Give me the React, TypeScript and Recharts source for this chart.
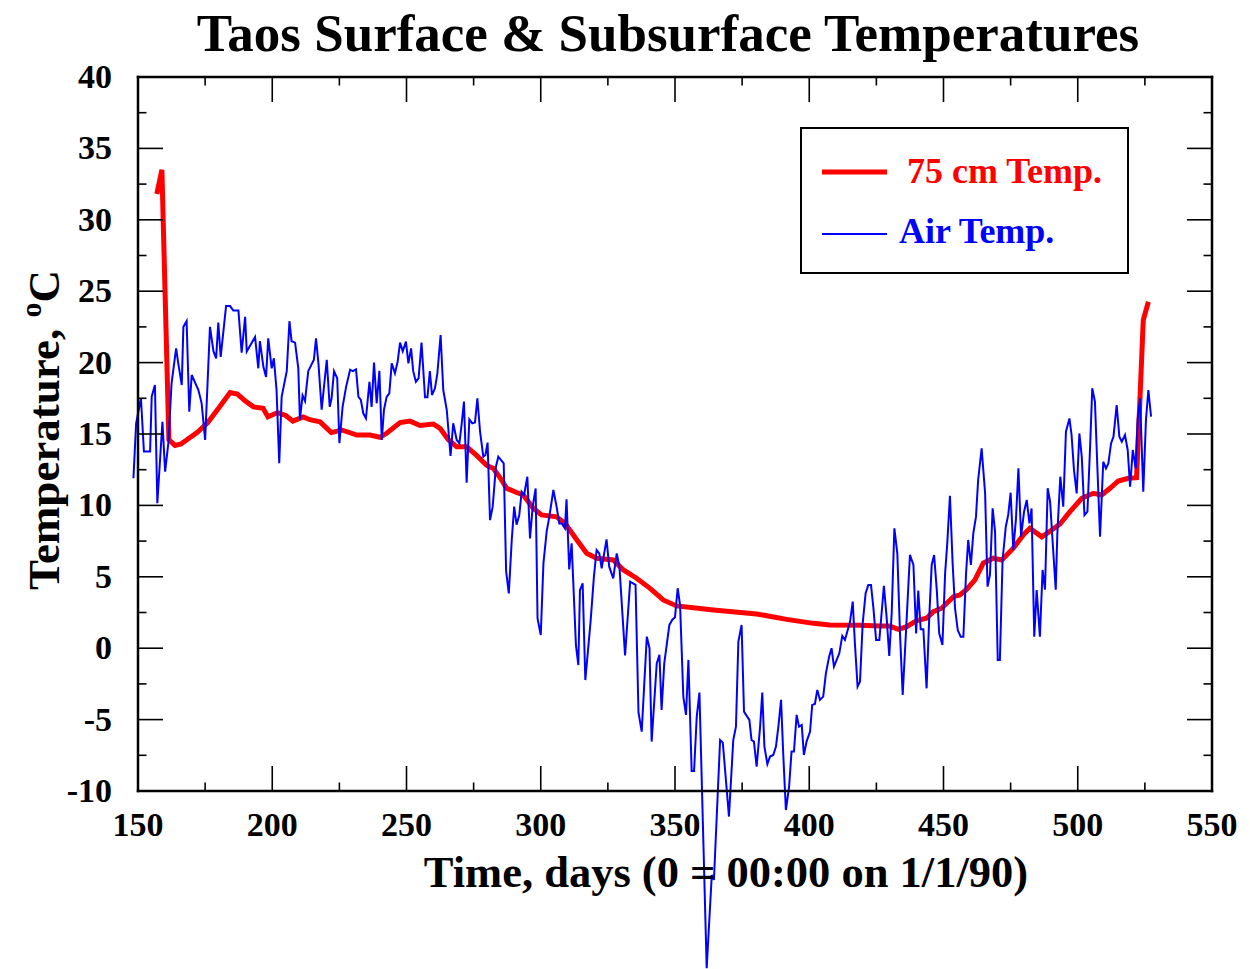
import React from 'react';
import { LineChart, Line, XAxis, YAxis, Legend } from 'recharts';

const FONT = '"Liberation Serif", "Times New Roman", serif';

const titleText = 'Taos Surface & Subsurface Temperatures';
const xTitle = 'Time, days (0 = 00:00 on 1/1/90)';
const yTitle = 'Temperature, ';
const yTitleSup = 'o';
const yTitleUnit = 'C';
const seriesNames = ['75 cm Temp.', 'Air Temp.'];

const xTicks = [150, 175, 200, 225, 250, 275, 300, 325, 350, 375, 400, 425, 450, 475, 500, 525, 550];
const yTicks = [-10, -7.5, -5, -2.5, 0, 2.5, 5, 7.5, 10, 12.5, 15, 17.5, 20, 22.5, 25, 27.5, 30, 32.5, 35, 37.5, 40];
const xDomain = [150, 550];
const yDomain = [-10, 40];

// 75 cm soil temperature
const soilDays = [
  157.0, 158.9, 161.5, 163.8, 166, 169, 172, 176, 180, 184.3,
  187, 190, 193, 196.6, 198.4, 202, 205, 207.7, 211.5, 214,
  217.8, 222, 225.9, 231.5, 236.4, 240.1, 242.6, 247.6, 251.3, 255,
  260, 262.5, 265.6, 268.7, 272.4, 276.1, 279.9, 282.3, 285, 287.3,
  291, 293.5, 297.2, 300.3, 305.9, 309, 313.4, 317.1, 320.8, 327,
  330.8, 335.7, 340.7, 345.6, 350.6, 359.3, 364.3, 380.4, 391.6, 401.5,
  407.7, 418.9, 426.4, 430, 433.2, 436.3, 440, 443.7, 446.2, 449.3,
  453.7, 456.1, 458.6, 461.7, 464.8, 468.5, 471.7, 476, 479.7, 482.2,
  486.6, 490.3, 493.4, 497.1, 501.5, 505.8, 508.9, 512, 515.1, 518.8,
  521.9, 523.2, 524.4, 526.3,
];
const soilTemps = [
  31.8, 33.5, 14.6, 14.2, 14.3, 14.7, 15.1, 15.8, 16.8, 17.9,
  17.8, 17.3, 16.9, 16.8, 16.2, 16.5, 16.3, 15.9, 16.2, 16.0,
  15.85, 15.1, 15.28, 14.93, 14.93, 14.77, 15.05, 15.8, 15.9, 15.6,
  15.7, 15.4, 14.6, 14.1, 14.1, 13.5, 12.8, 12.6, 11.9, 11.2,
  10.9, 10.73, 9.8, 9.33, 9.2, 8.75, 7.6, 6.65, 6.3, 6.18,
  5.48, 4.9, 4.19, 3.38, 2.96, 2.78, 2.68, 2.4, 2.02, 1.74,
  1.62, 1.6, 1.55, 1.55, 1.32, 1.51, 1.93, 2.1, 2.56, 2.8,
  3.61, 3.73, 4.12, 4.78, 5.95, 6.3, 6.18, 7.0, 7.93, 8.4,
  7.8, 8.28, 8.7, 9.56, 10.5, 10.85, 10.73, 11.2, 11.71, 11.9,
  11.94, 17.6, 22.98, 24.26,
];

// Air temperature
const airDays = [
  148.3, 149.3, 151.1, 152.2, 154.5, 155.1, 156.3, 157.2, 159.1, 160.1,
  161.3, 162.5, 164.2, 165.0, 166.3, 166.9, 168.1, 169.1, 170.0, 172.5,
  173.7, 175.0, 176.8, 178.1, 179.1, 179.9, 180.8, 182.8, 184.3, 185.5,
  187.4, 188.6, 189.9, 190.5, 193.6, 194.8, 195.4, 196.7, 197.7, 198.5,
  199.8, 200.6, 201.6, 202.6, 203.5, 205.4, 206.4, 207.2, 208.5, 209.7,
  210.3, 211.3, 212.2, 213.4, 215.5, 216.3, 217.2, 218.4, 220.3, 221.4,
  222.1, 223.0, 224.2, 225.0, 226.2, 227.5, 229.0, 230.0, 231.2, 232.1,
  233.0, 233.9, 234.9, 236.2, 237.0, 237.9, 238.9, 239.9, 240.8, 241.6,
  242.6, 243.6, 244.5, 245.7, 246.7, 247.6, 248.6, 249.8, 250.7, 251.7,
  252.5, 253.5, 254.5, 255.6, 256.9, 257.8, 258.7, 259.5, 260.6, 261.5,
  262.7, 263.7, 265.0, 266.4, 267.4, 268.7, 269.7, 270.5, 271.4, 272.4,
  273.4, 274.5, 275.5, 276.4, 277.4, 278.6, 279.4, 280.2, 281.1, 282.1,
  283.3, 284.2, 286.2, 287.1, 288.1, 289.2, 290.1, 291.0, 292.0, 292.9,
  293.8, 295.0, 296.0, 297.0, 298.1, 298.8, 300.0, 301.0, 302.2, 303.2,
  304.7, 305.9, 306.9, 307.8, 309.0, 309.6, 310.6, 311.5, 313.1, 314.0,
  314.6, 315.6, 316.6, 318.6, 319.8, 320.8, 321.8, 322.7, 324.5, 325.5,
  327.0, 328.3, 329.3, 331.4, 332.4, 333.3, 335.3, 336.4, 337.6, 339.5,
  340.5, 341.3, 343.2, 344.2, 345.0, 346.0, 347.9, 349.0, 350.0, 351.0,
  351.9, 353.1, 354.1, 355.0, 356.2, 357.1, 358.1, 359.1, 361.8, 363.7,
  364.5, 366.8, 367.8, 370.1, 371.7, 372.7, 373.6, 374.8, 375.7, 376.7,
  377.7, 378.5, 379.4, 380.4, 381.7, 382.5, 383.3, 384.4, 385.4, 386.6,
  387.6, 388.5, 389.5, 390.3, 391.3, 392.5, 393.4, 394.3, 395.3, 396.2,
  397.2, 398.0, 399.0, 400.3, 401.1, 402.1, 403.0, 404.0, 405.2, 406.2,
  407.4, 408.3, 409.2, 410.2, 411.2, 412.3, 413.3, 415.2, 416.2, 417.0,
  418.0, 418.9, 419.9, 421.0, 422.0, 423.0, 423.9, 424.9, 426.1, 427.8,
  428.8, 429.8, 430.7, 431.7, 432.8, 433.8, 434.8, 436.0, 437.5, 438.8,
  439.8, 440.6, 441.5, 442.5, 443.7, 444.7, 445.6, 446.5, 447.5, 448.4,
  449.6, 450.6, 451.4, 452.4, 453.4, 454.3, 455.3, 456.4, 457.4, 458.4,
  459.2, 460.2, 461.1, 462.1, 462.9, 464.2, 465.5, 466.4, 467.3, 468.3,
  469.2, 470.2, 471.0, 472.0, 473.2, 474.1, 475.0, 476.0, 477.0, 477.9,
  478.9, 480.0, 481.0, 482.0, 482.8, 483.8, 484.7, 485.9, 486.9, 487.8,
  488.8, 489.7, 490.8, 491.8, 492.4, 493.5, 494.6, 495.6, 496.9, 497.7,
  498.6, 499.6, 500.6, 501.5, 502.5, 503.6, 504.6, 505.4, 506.4, 507.3,
  508.3, 509.5, 510.5, 511.4, 512.4, 513.3, 514.5, 515.5, 516.4, 517.6,
  518.6, 519.5, 520.5, 521.6, 522.3, 523.2, 524.4, 525.4, 526.3, 527.3,
];
const airTemps = [
  11.9, 15.75, 17.5, 13.77, 13.77, 17.61, 18.43, 10.15, 15.86, 12.36,
  14.35, 18.55, 21.0, 19.95, 18.43, 22.5, 22.9, 16.56, 19.13, 18.08,
  17.15, 14.58, 22.5, 20.8, 20.3, 22.8, 20.4, 23.96, 23.96, 23.64,
  23.64, 20.7, 23.2, 20.77, 21.8, 19.6, 21.5, 19.7, 19.0, 21.7,
  19.6, 20.3, 18.08, 12.95, 17.6, 19.4, 22.9, 21.5, 21.4, 19.6,
  16.0, 17.7, 17.3, 19.4, 20.2, 21.7, 19.95, 16.7, 20.2, 16.9,
  17.5, 19.4, 18.9, 14.35, 16.9, 18.3, 19.5, 19.4, 19.53, 17.6,
  17.38, 16.45, 16.1, 18.66, 16.9, 20.0, 17.15, 19.43, 14.58, 16.68,
  17.6, 17.85, 19.95, 19.25, 20.07, 21.4, 20.8, 21.47, 19.95, 21.0,
  19.4, 18.66, 18.9, 21.4, 17.57, 17.57, 19.4, 17.73, 18.2, 19.25,
  21.93, 18.08, 16.68, 13.46, 15.75, 14.58, 14.35, 15.63, 17.27, 11.59,
  16.03, 15.75, 15.8, 17.5, 15.16, 13.41, 13.53, 14.4, 8.97, 9.91,
  12.71, 13.41, 12.95, 5.4, 3.84, 7.58, 9.91, 8.65, 9.33, 10.96,
  10.73, 12.01, 7.69, 9.91, 11.19, 2.09, 0.92, 5.94, 8.16, 9.21,
  11.08, 9.91, 8.74, 8.74, 8.39, 10.42, 5.52, 7.34, 0.22, -1.18,
  4.07, 4.54, -2.23, 1.97, 5.01, 6.88, 6.64, 5.59, 7.62, 5.71,
  4.89, 6.64, 5.71, -0.5, 2.2, 4.66, 4.43, -4.5, -5.84, 0.81,
  0.0, -6.54, -1.06, -0.47, -4.32, -1.06, 1.63, 2.0, 2.17, 4.2,
  3.0, -3.39, -4.67, -0.82, -8.6, -8.6, -4.79, -3.11, -22.41, -15.88,
  -16.23, -6.43, -6.61, -11.79, -6.43, -5.49, 0.46, 1.63, -4.44, -4.74,
  -5.02, -6.43, -6.54, -8.29, -5.49, -3.11, -6.89, -8.11, -7.59, -7.48,
  -6.89, -5.49, -3.62, -7.36, -11.33, -9.69, -7.24, -7.24, -4.67, -5.49,
  -5.37, -7.48, -6.54, -5.84, -3.97, -3.9, -2.92, -3.62, -3.39, -1.76,
  -0.59, 0.0, -1.29, -0.82, -0.36, 0.86, 0.58, 1.86, 3.26, 0.34,
  -2.69, -2.34, 1.74, 3.85, 4.43, 4.43, 2.8, 0.57, 0.57, 4.36,
  2.21, -0.55, 2.44, 8.39, 6.64, 1.04, -3.28, 1.04, 6.53, 5.83,
  1.04, 4.03, 1.32, 1.32, -2.81, 2.21, 5.83, 6.53, 4.08, 1.04,
  0.22, 5.24, 7.34, 10.68, 5.94, 2.79, 1.27, 0.81, 0.81, 5.24,
  7.58, 5.83, 8.04, 9.21, 11.78, 13.99, 10.84, 4.31, 5.13, 9.79,
  8.16, -0.83, -0.83, 6.18, 8.51, 9.33, 10.89, 6.88, 9.09, 12.6,
  7.81, 9.56, 10.38, 8.74, 9.79, 0.81, 4.07, 0.8, 5.48, 4.1,
  11.2, 10.26, 7.0, 4.1, 8.04, 12.01, 9.91, 15.16, 16.09, 14.93,
  12.47, 10.84, 15.04, 13.41, 9.32, 9.56, 14.11, 18.2, 17.26, 12.71,
  7.81, 13.06, 12.59, 12.94, 14.34, 14.81, 17.03, 14.81, 14.46, 14.93,
  13.88, 11.31, 13.88, 12.59, 15.98, 17.5, 10.96, 15.98, 18.08, 16.21,
];

const pairUp = (days: number[], temps: number[]) =>
  days.slice(0, Math.min(days.length, temps.length)).map((d, i) => ({ day: d, temp: temps[i] }));

const soilData = pairUp(soilDays, soilTemps);
const airData = pairUp(airDays, airTemps);

const MAJOR = 25;
const MINOR = 8.5;
const TICK_W = 1.6;
const isMajorX = (v: number) => v % 50 === 0;
const isMajorY = (v: number) => v % 5 === 0;

const textStyle = { fontFamily: FONT, fontWeight: 'bold' as const, fill: '#000' };

const BottomTick = (p: any) => {
  const { x, y, payload } = p;
  const v = payload.value;
  const m = isMajorX(v);
  return (
    <g>
      <line x1={x} y1={y} x2={x} y2={y - (m ? MAJOR : MINOR)} stroke="#000" strokeWidth={TICK_W} />
      {m && (
        <text x={x} y={y + 45} textAnchor="middle" fontSize={34} {...textStyle}>
          {v}
        </text>
      )}
    </g>
  );
};

const TopTick = (p: any) => {
  const { x, y, payload } = p;
  const m = isMajorX(payload.value);
  return <line x1={x} y1={y} x2={x} y2={y + (m ? MAJOR : MINOR)} stroke="#000" strokeWidth={TICK_W} />;
};

const LeftTick = (p: any) => {
  const { x, y, payload } = p;
  const v = payload.value;
  const m = isMajorY(v);
  return (
    <g>
      <line x1={x} y1={y} x2={x + (m ? MAJOR : MINOR)} y2={y} stroke="#000" strokeWidth={TICK_W} />
      {m && (
        <text x={x - 26} y={y + 11} textAnchor="end" fontSize={34} {...textStyle}>
          {v}
        </text>
      )}
    </g>
  );
};

const RightTick = (p: any) => {
  const { x, y, payload } = p;
  const m = isMajorY(payload.value);
  return <line x1={x} y1={y} x2={x - (m ? MAJOR : MINOR)} y2={y} stroke="#000" strokeWidth={TICK_W} />;
};

const TitleLabel = (props: any) => {
  const vb = props.viewBox || { x: 138, y: 0, width: 1074, height: 77 };
  return (
    <text x={vb.x + vb.width / 2 - 7} y={vb.y + 51} textAnchor="middle" fontSize={53} {...textStyle}>
      {titleText}
    </text>
  );
};

const XTitleLabel = (props: any) => {
  const vb = props.viewBox || { x: 138, y: 791, width: 1074, height: 178 };
  return (
    <text x={vb.x + vb.width / 2 + 51} y={vb.y + 96} textAnchor="middle" fontSize={44.5} {...textStyle}>
      {xTitle}
    </text>
  );
};

const YTitleLabel = (props: any) => {
  const vb = props.viewBox || { x: 0, y: 77, width: 138, height: 714 };
  const cx = vb.x + 59;
  const cy = vb.y + vb.height / 2 - 4;
  return (
    <text x={cx} y={cy} transform={`rotate(-90, ${cx}, ${cy})`} textAnchor="middle" fontSize={45} {...textStyle}>
      {yTitle}
      <tspan dy={-18} fontSize={30}>{yTitleSup}</tspan>
      <tspan dy={18}>{yTitleUnit}</tspan>
    </text>
  );
};

const LegendBox = () => (
  <svg width={329} height={147} style={{ display: 'block' }}>
    <rect x={1} y={1} width={327} height={145} fill="#fff" stroke="#000" strokeWidth={2} />
    <line x1={22} y1={45} x2={87} y2={45} stroke="#ff0000" strokeWidth={5} />
    <text x={107} y={56} fontFamily={FONT} fontWeight="bold" fontSize={36} fill="#ff0000">
      {seriesNames[0]}
    </text>
    <line x1={22} y1={107} x2={87} y2={107} stroke="#0000ff" strokeWidth={2} />
    <text x={99} y={116} fontFamily={FONT} fontWeight="bold" fontSize={36} fill="#0000ff">
      {seriesNames[1]}
    </text>
  </svg>
);

const css = `
body { margin: 0; }
.recharts-wrapper [clip-path] { clip-path: none !important; }
.recharts-line-curve { clip-path: none !important; }
`;

const axisLineStyle = { stroke: '#000', strokeWidth: 2.5, strokeLinecap: 'square' as const };

export default function App() {
  return (
    <div style={{ width: 1250, height: 969, background: '#fff' }}>
      <style>{css}</style>
      <LineChart width={1250} height={969} margin={{ top: 0, right: 0, bottom: 0, left: 0 }}>
        <XAxis
          xAxisId="b"
          type="number"
          dataKey="day"
          orientation="bottom"
          domain={xDomain}
          allowDataOverflow
          ticks={xTicks}
          interval={0}
          height={178}
          tickSize={0}
          tickMargin={0}
          tickLine={false}
          axisLine={axisLineStyle}
          tick={<BottomTick />}
          label={{ content: XTitleLabel }}
        />
        <XAxis
          xAxisId="t"
          type="number"
          dataKey="day"
          orientation="top"
          domain={xDomain}
          allowDataOverflow
          ticks={xTicks}
          interval={0}
          height={77}
          tickSize={0}
          tickMargin={0}
          tickLine={false}
          axisLine={axisLineStyle}
          tick={<TopTick />}
          label={{ content: TitleLabel }}
        />
        <YAxis
          yAxisId="l"
          type="number"
          orientation="left"
          domain={yDomain}
          allowDataOverflow
          ticks={yTicks}
          interval={0}
          width={138}
          tickSize={0}
          tickMargin={0}
          tickLine={false}
          axisLine={axisLineStyle}
          tick={<LeftTick />}
          label={{ content: YTitleLabel }}
        />
        <YAxis
          yAxisId="r"
          type="number"
          orientation="right"
          domain={yDomain}
          allowDataOverflow
          ticks={yTicks}
          interval={0}
          width={38}
          tickSize={0}
          tickMargin={0}
          tickLine={false}
          axisLine={axisLineStyle}
          tick={<RightTick />}
        />
        <Legend
          layout="horizontal"
          verticalAlign="middle"
          align="center"
          wrapperStyle={{ left: 800, top: 127, width: 329, height: 147, margin: 0, padding: 0 }}
          content={() => <LegendBox />}
        />
        <Line
          xAxisId="b"
          yAxisId="l"
          data={soilData}
          dataKey="temp"
          name={seriesNames[0]}
          type="linear"
          stroke="#ff0000"
          strokeWidth={5}
          dot={false}
          activeDot={false}
          isAnimationActive={false}
        />
        <Line
          xAxisId="b"
          yAxisId="l"
          data={airData}
          dataKey="temp"
          name={seriesNames[1]}
          type="linear"
          stroke="#0000ff"
          strokeWidth={2}
          dot={false}
          activeDot={false}
          isAnimationActive={false}
        />
      </LineChart>
    </div>
  );
}
